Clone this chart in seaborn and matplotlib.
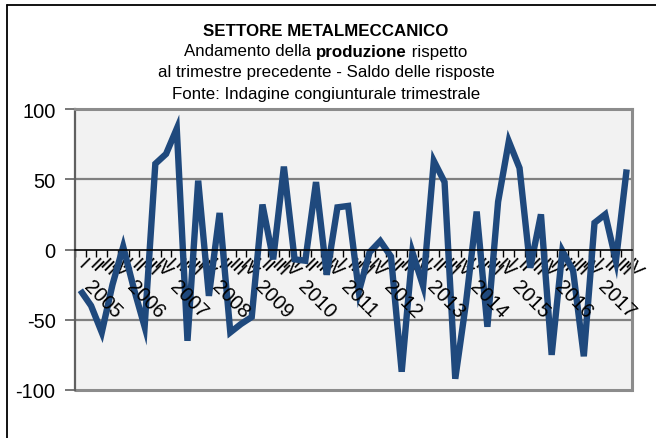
import numpy as np
import pandas as pd
import matplotlib
matplotlib.use("Agg")
import matplotlib.pyplot as plt
import seaborn as sns
from matplotlib.lines import Line2D

# ---- data ----
years = [str(y) for y in range(2005, 2018)]
quarters = ["I", "II", "III", "IV"]
values = [-29, -40, -59, -25, 2, -28, -55, 61, 68, 86, -65, 49,
          -33, 26, -59, -53, -48, 32, -7, 59, -7, -8, 48, -18,
          30, 31, -30, -2, 6, -5, -87, -2, -26, 63, 48, -92,
          -38, 27, -55, 34, 77, 58, -13, 25, -75, -1, -15, -76,
          19, 25, -8, 57]
yticks = [-100, -50, 0, 50, 100]

labels = [q for y in years for q in quarters]
df = pd.DataFrame({"idx": np.arange(len(values)), "val": values, "lab": labels})

sns.set_theme(style="white")
plt.rcParams["font.family"] = ["Liberation Sans", "DejaVu Sans"]
plt.rcParams["text.color"] = "black"
plt.rcParams["xtick.labelcolor"] = "black"
plt.rcParams["ytick.labelcolor"] = "black"

fig = plt.figure(figsize=(6.56, 4.39), dpi=100)
ax = fig.add_axes([75/656, 1-391/439, (632-75)/656, (391-110)/439])
ax.set_facecolor("#F2F2F2")

sns.lineplot(data=df, x="idx", y="val", ax=ax, color="#1F497D", linewidth=4.6,
             solid_joinstyle="miter", solid_capstyle="butt")

n = len(values)
ax.set_xlim(-0.5, n - 0.5)
ax.set_ylim(-100, 100)
ax.set_xlabel("")
ax.set_ylabel("")

# gridlines
for v in [-50, 50]:
    ax.axhline(v, color="#808080", linewidth=1.6, zorder=0.5)

# spines
for s in ["top", "right"]:
    ax.spines[s].set_visible(True)
    ax.spines[s].set_color("#8C8C8C")
    ax.spines[s].set_linewidth(2.2)
ax.spines["left"].set_color("#606060")
ax.spines["left"].set_linewidth(1.6)
ax.spines["bottom"].set_position(("data", 0))
ax.spines["bottom"].set_color("black")
ax.spines["bottom"].set_linewidth(1.2)
ax.add_line(Line2D([0, 1], [0, 0], transform=ax.transAxes, color="#8C8C8C",
                   linewidth=2.2, clip_on=False))

# y ticks
ax.set_yticks(yticks)
ax.set_yticklabels([str(v) for v in yticks], fontsize=14.5, color="black")
ax.tick_params(axis="y", direction="out", length=7, width=1.2, color="#606060",
               pad=7, left=True, labelcolor="black")

# x ticks: boundaries (major) and labels at centers (minor)
ax.set_xticks(np.arange(-0.5, n, 1))
ax.set_xticklabels([])
ax.tick_params(axis="x", which="major", direction="out", length=5, width=1,
               color="black", bottom=True)
ax.set_xticks(np.arange(n), minor=True)
ax.set_xticklabels(labels, minor=True, fontsize=14, rotation=-45,
                   rotation_mode="anchor", ha="left", va="center", color="black")
ax.tick_params(axis="x", which="minor", length=0, pad=9)

# year labels
for k, y in enumerate(years):
    ax.text(4 * k + 0.6, -24, y, fontsize=14.5, rotation=-45,
            rotation_mode="anchor", ha="left", va="center", color="black")

# frame of whole figure
fig.add_artist(Line2D([7/656, 7/656], [0, 1-6/439], color="black", linewidth=1.3))
fig.add_artist(Line2D([7/656, 1], [1-6/439, 1-6/439], color="black", linewidth=1.3))

# titles
cx = 326/656
fig.text(cx, 1-31/439, "SETTORE METALMECCANICO", ha="center", va="center",
         fontsize=12.2, fontweight="bold", color="black")
fig.canvas.draw()
r = fig.canvas.get_renderer()
parts = [("Andamento della ", "normal"), ("produzione", "bold"), (" rispetto", "normal")]
texts = []
widths = []
for s, w in parts:
    t = fig.text(0, 1-52/439, s, ha="left", va="center", fontsize=12.2,
                 fontweight=w, color="black")
    widths.append(t.get_window_extent(r).width)
    texts.append(t)
tot = sum(widths)
x0 = cx * 656 - tot / 2
for t, w in zip(texts, widths):
    t.set_x(x0 / 656)
    x0 += w
fig.text(cx, 1-73/439, "al trimestre precedente - Saldo delle risposte",
         ha="center", va="center", fontsize=12.2, color="black")
fig.text(cx, 1-95/439, "Fonte: Indagine congiunturale trimestrale",
         ha="center", va="center", fontsize=12.2, color="black")

fig.savefig("out.png", dpi=100)
